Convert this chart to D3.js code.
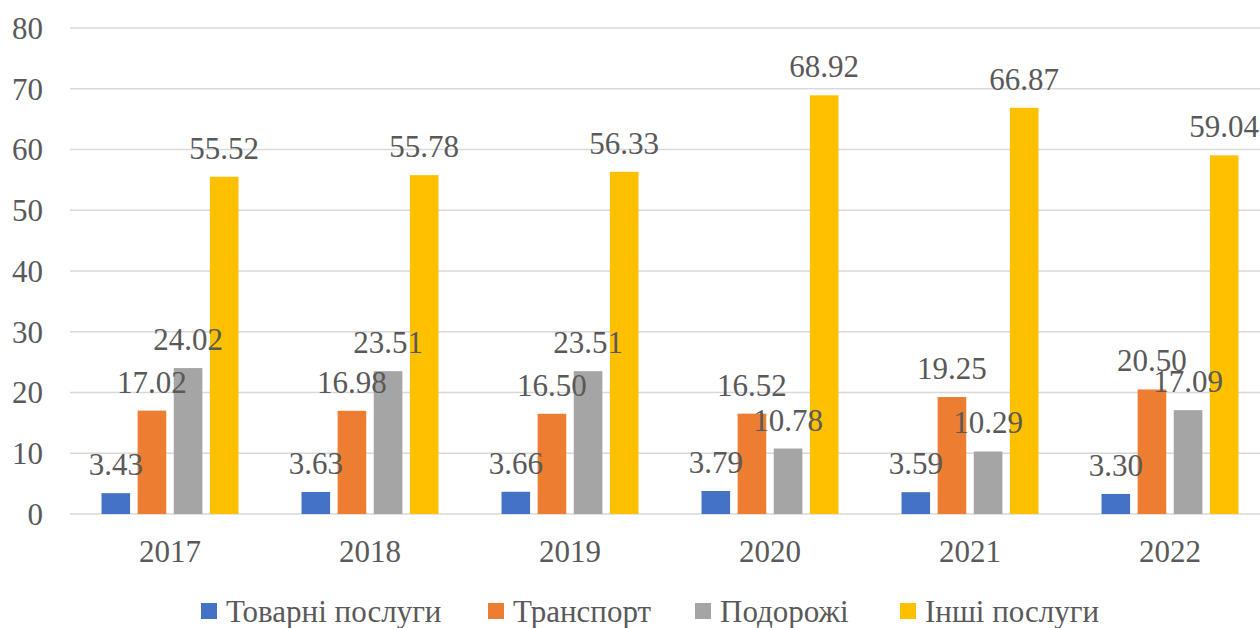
<!DOCTYPE html>
<html><head><meta charset="utf-8">
<script src="https://cdn.jsdelivr.net/npm/d3@7"></script>
<style>body{margin:0;background:#fff}svg{display:block}</style>
</head><body><svg id="c" width="1260" height="628"></svg>
<script>
const years = ["2017","2018","2019","2020","2021","2022"];
const seriesNames = ["Товарні послуги","Транспорт","Подорожі","Інші послуги"];
const goods = [3.43,3.63,3.66,3.79,3.59,3.30];
const transport = [17.02,16.98,16.50,16.52,19.25,20.50];
const travel = [24.02,23.51,23.51,10.78,10.29,17.09];
const other = [55.52,55.78,56.33,68.92,66.87,59.04];
const yTicks = [0,10,20,30,40,50,60,70,80];
const colors = ["#4472C4","#ED7D31","#A5A5A5","#FFC000"];
const seriesValues = [goods,transport,travel,other];

(function(){
const FONT = "Liberation Serif";
const FS = 31;
const svg = d3.select("#c");
const pLeft = 70, pRight = 1270, pTop = 28, pBottom = 514;
const y = d3.scaleLinear().domain([0,80]).range([pBottom, pTop]);
const x0 = d3.scaleBand().domain(years).range([pLeft,pRight]).padding(0);
const x1 = d3.scaleBand().domain(seriesNames).range([31.5, 168.5]).paddingInner(0.2083).paddingOuter(0);

svg.append("g").selectAll("line").data(yTicks).join("line")
  .attr("x1", pLeft).attr("x2", pRight)
  .attr("y1", d=>y(d)).attr("y2", d=>y(d))
  .attr("stroke", "#d9d9d9").attr("stroke-width", 1.3);

const txt = sel => sel.style("font-family", FONT).attr("fill", "#595959");

svg.append("g").selectAll("text").data(yTicks).join("text")
  .call(txt)
  .attr("x", 43).attr("y", d=>y(d)).attr("dy","0.35em")
  .attr("text-anchor","end").attr("font-size", FS).text(d=>d);

svg.append("g").selectAll("text").data(years).join("text")
  .call(txt)
  .attr("x", d=>x0(d)+x0.bandwidth()/2).attr("y", 562)
  .attr("text-anchor","middle").attr("font-size", FS).text(d=>d);

const data = [];
years.forEach((yr,i)=>seriesNames.forEach((s,j)=>data.push({yr, s, j, v: seriesValues[j][i]})));

const g = svg.append("g");
g.selectAll("rect").data(data).join("rect")
  .attr("x", d=>x0(d.yr)+x1(d.s)).attr("width", x1.bandwidth())
  .attr("y", d=>y(d.v)).attr("height", d=>y(0)-y(d.v))
  .attr("fill", d=>colors[d.j]);

g.selectAll("text").data(data).join("text")
  .call(txt)
  .attr("x", d=>x0(d.yr)+x1(d.s)+x1.bandwidth()/2)
  .attr("y", d=>y(d.v)-18)
  .attr("text-anchor","middle").attr("font-size", FS)
  .text(d=>d.v.toFixed(2));

const legendX = [201, 488, 695, 900];
const lg = svg.append("g");
seriesNames.forEach((s,j)=>{
  lg.append("rect").attr("x", legendX[j]).attr("y", 603).attr("width",16).attr("height",16).attr("fill", colors[j]);
  lg.append("text").call(txt).attr("x", legendX[j]+25).attr("y", 622).attr("font-size", FS).text(s);
});
})();
</script></body></html>
